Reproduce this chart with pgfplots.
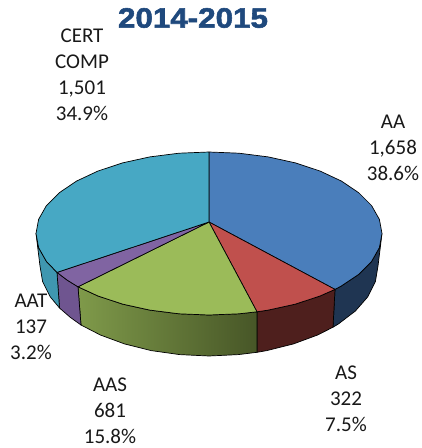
\documentclass[border=0pt]{standalone}
\usepackage{fontspec}
\setmainfont{Carlito}
\newfontfamily\titlefont[FakeStretch=1.12,FakeBold=2]{Liberation Sans Bold}
\usepackage{pgfplots}
\pgfplotsset{compat=1.18}
\definecolor{tAA}{HTML}{4A7EBB}
\definecolor{tAS}{HTML}{C0504D}
\definecolor{tAAS}{HTML}{9BBB59}
\definecolor{tAAT}{HTML}{8064A2}
\definecolor{tCC}{HTML}{47A8C4}
\definecolor{sAA}{HTML}{1F3552}
\definecolor{sAS}{HTML}{4E1F1D}
\definecolor{sAASl}{HTML}{7F9A4A}
\definecolor{sAASr}{HTML}{475627}
\definecolor{sAAT}{HTML}{6F5590}
\definecolor{sCC}{HTML}{3F97B0}
\definecolor{ttl}{HTML}{1F497D}
\begin{document}
\begin{tikzpicture}[lab/.style={align=center,inner sep=0pt,text=black!90,font=\fontsize{21}{26}\selectfont}]
\begin{axis}[name=a,
  width=422pt,height=448pt,scale only axis,hide axis,clip=false,
  xmin=0,xmax=422,ymin=0,ymax=448,y dir=reverse,
  every axis plot/.append style={mark=none,forget plot,line width=0.7pt,draw=black,line join=round}]
% side walls
\addplot[fill=sAA] coordinates {(382,233.5)(379.4,247.6)(371.6,261.4)(358.8,274.3)(341.5,285.9)(335,289.4)(333,327.2)(338.5,323.9)(355.4,311)(367.8,296.8)(375.4,281.6)(378,266)(382,233.5)};
\addplot[fill=sAS] coordinates {(335,289.4)(320.2,295.9)(295.5,304.1)(268.2,310.1)(257,311.8)(257,352.3)(266.8,350.6)(293.5,343.9)(317.6,335)(333,327.2)(335,289.4)};
\addplot[left color=sAASl,right color=sAASr] coordinates {(257,311.8)(239,313.8)(209,315)(179,313.8)(149.8,310.1)(122.5,304.1)(97.8,295.9)(78,286.8)(81,325)(100.4,335)(124.5,343.9)(151.2,350.6)(179.7,354.6)(209,356)(238.3,354.6)(257,352.3)(257,311.8)};
\addplot[fill=sAAT] coordinates {(78,286.8)(67.3,280.2)(57,272.4)(59.5,308)(70.6,317.6)(81,325)(78,286.8)};
\addplot[fill=sCC] coordinates {(57,272.4)(46.4,261.4)(38.6,247.6)(36,233.5)(40,266)(42.6,281.6)(50.2,296.8)(59.5,308)(57,272.4)};
% top face
\addplot[fill=tAA] coordinates {(209,222)(209,152)(239,153.2)(268.2,156.9)(295.5,162.9)(320.2,171.1)(341.5,181.1)(358.8,192.8)(371.6,205.6)(379.4,219.4)(382,233.5)(379.4,247.6)(371.6,261.4)(358.8,274.3)(341.5,285.9)(335,289.4)(209,222)};
\addplot[fill=tAS] coordinates {(209,222)(335,289.4)(320.2,295.9)(295.5,304.1)(268.2,310.1)(257,311.8)(209,222)};
\addplot[fill=tAAS] coordinates {(209,222)(257,311.8)(239,313.8)(209,315)(179,313.8)(149.8,310.1)(122.5,304.1)(97.8,295.9)(78,286.8)(209,222)};
\addplot[fill=tAAT] coordinates {(209,222)(78,286.8)(67.3,280.2)(57,272.4)(209,222)};
\addplot[fill=tCC] coordinates {(209,222)(57,272.4)(46.4,261.4)(38.6,247.6)(36,233.5)(38.6,219.4)(46.4,205.6)(59.2,192.8)(76.5,181.1)(97.8,171.1)(122.5,162.9)(149.8,156.9)(179,153.2)(209,152)(209,222)};
% labels
\node[lab] at (axis cs:82,75) {CERT\\COMP\\1,501\\34.9\%};
\node[lab] at (axis cs:393,148) {AA\\1,658\\38.6\%};
\node[lab] at (axis cs:31,327) {AAT\\137\\3.2\%};
\node[lab] at (axis cs:110,410.5) {AAS\\681\\15.8\%};
\node[lab] at (axis cs:346,399) {AS\\322\\7.5\%};
\node[inner sep=0pt,text=ttl,font=\titlefont\fontsize{28}{30}\selectfont] at (axis cs:193,18) {2014-2015};
\end{axis}
\pgfresetboundingbox
\useasboundingbox (a.south west) rectangle (a.north east);
\end{tikzpicture}
\end{document}
